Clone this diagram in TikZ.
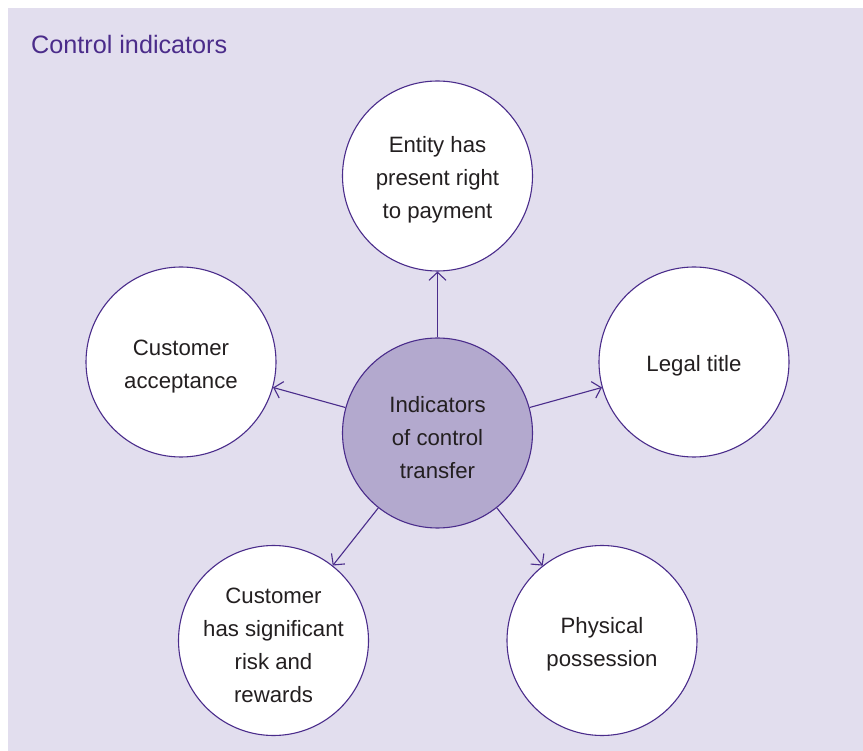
\documentclass[tikz,border=0pt]{standalone}
\usepackage{fontspec}
\setmainfont{Liberation Sans}
\usetikzlibrary{arrows.meta}
\definecolor{bgc}{HTML}{E2DEEE}
\definecolor{linec}{HTML}{4A2C8B}
\definecolor{centerc}{HTML}{B3A9CE}
\definecolor{titlec}{HTML}{4B2C8A}
\definecolor{textc}{HTML}{231F20}
\newcommand\liftline{\rule{0pt}{24.6pt}}
\tikzset{
  bubble/.style={circle, draw=linec, line width=1.1pt, fill=white, minimum size=190pt, inner sep=0pt, align=center, text=textc, font=\fontsize{22.2}{33}\selectfont},
  hub/.style={bubble, fill=centerc},
  link/.style={draw=linec, line width=1.1pt, -{Straight Barb[length=8pt,width=17pt,line width=1.1pt]}}
}
\begin{document}
\begin{tikzpicture}[x=1pt,y=-1pt]
\useasboundingbox (0,0) rectangle (863,751);
\fill[bgc] (8,8) rectangle (863,751);
\node[anchor=west, inner sep=0pt, text=titlec, font=\fontsize{25.2}{30}\selectfont] (title) at (31,44) {Control indicators};
\node[hub] (c) at (437.5,433) {\liftline Indicators\\of control\\transfer};
\node[bubble] (t) at (437.5,176) {\liftline Entity has\\present right\\to payment};
\node[bubble] (l) at (181,362) {\liftline Customer\\acceptance};
\node[bubble] (r) at (694,362) {\liftline Legal title};
\node[bubble] (bl) at (273.5,640.5) {\liftline Customer\\has significant\\risk and\\rewards};
\node[bubble] (br) at (602,640.5) {\liftline Physical\\possession};
\draw[link] (c) -- (t);
\draw[link] (c) -- (l);
\draw[link] (c) -- (r);
\draw[link] (c) -- (bl);
\draw[link] (c) -- (br);
\end{tikzpicture}
\end{document}
